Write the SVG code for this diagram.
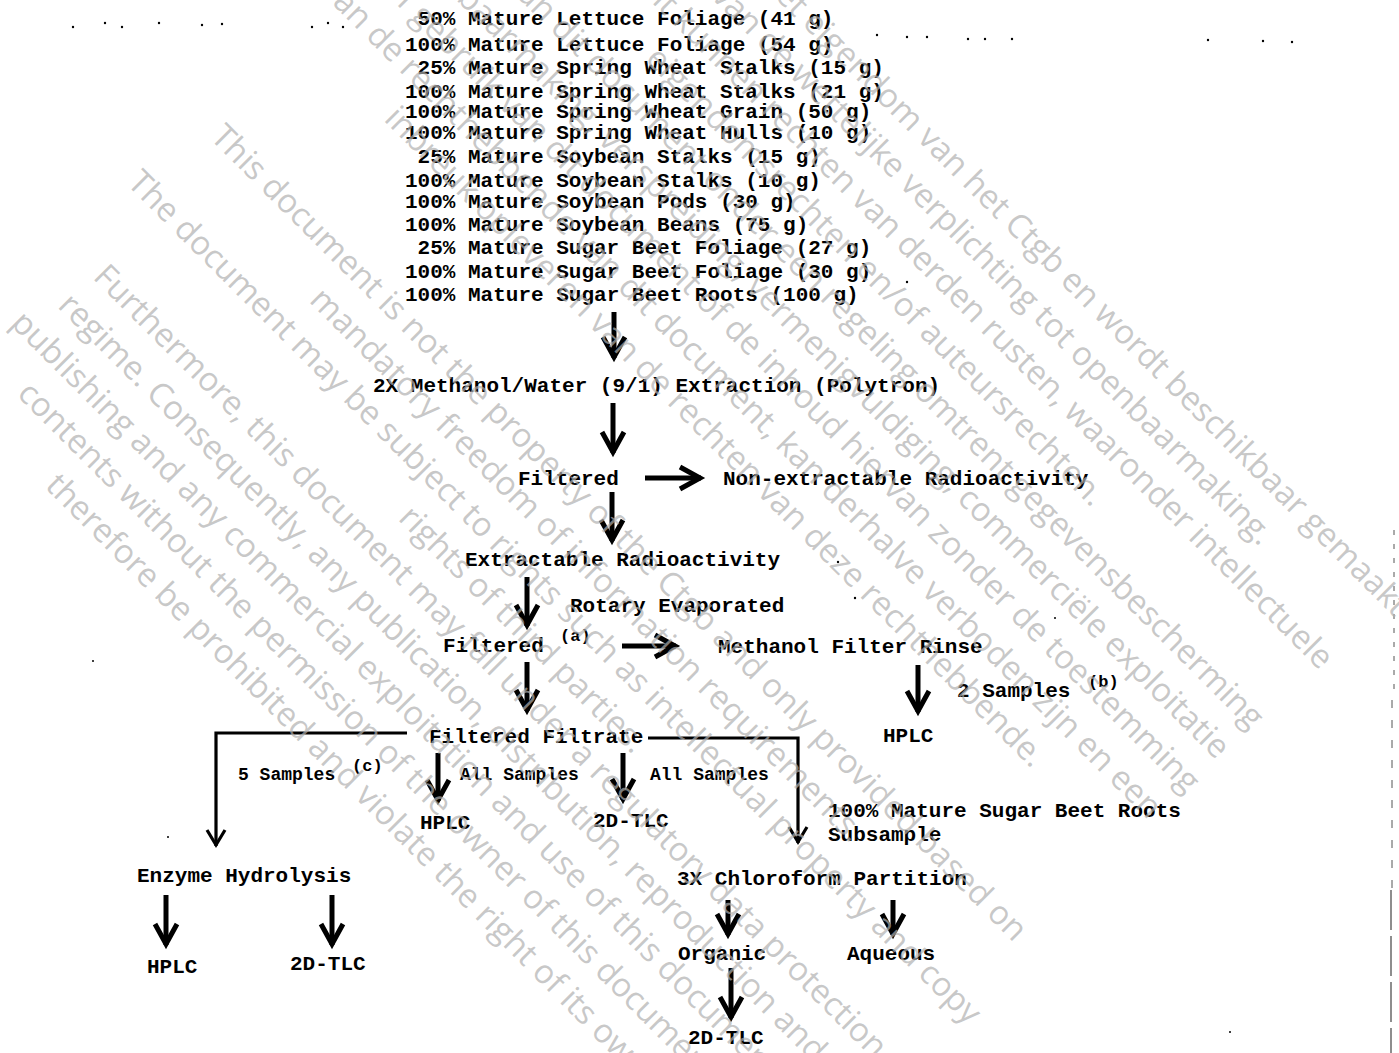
<svg xmlns="http://www.w3.org/2000/svg" width="1399" height="1053" viewBox="0 0 1399 1053">
<style>
.t{font-family:"Liberation Mono","Courier New",monospace;font-weight:bold;font-size:21px;fill:#000}
.s{font-size:18px}
.n{font-size:17px}
.wm{font-family:"Open Sans","DejaVu Sans",sans-serif;font-size:33px;fill:#b0b0b0;fill-opacity:0.7;text-anchor:middle}
.thick{fill:none;stroke:#000;stroke-width:5}
.thin{fill:none;stroke:#000;stroke-width:3.2}
</style>
<defs>
<marker id="ah" markerUnits="userSpaceOnUse" markerWidth="40" markerHeight="40" viewBox="-30 -20 40 40" refX="0" refY="0" orient="auto">
<path d="M-21,-11 L-1,0 L-21,11" fill="none" stroke="#000" stroke-width="5" stroke-linejoin="miter"/>
</marker>
<marker id="ahs" markerUnits="userSpaceOnUse" markerWidth="30" markerHeight="30" viewBox="-25 -15 30 30" refX="0" refY="0" orient="auto">
<path d="M-16,-9 L-1,0 L-16,9" fill="none" stroke="#000" stroke-width="3.2" stroke-linejoin="miter"/>
</marker>
</defs>
<rect width="1399" height="1053" fill="#fff"/>

<g id="scan-marks" fill="#000">
<circle cx="73" cy="27" r="1.2"/><circle cx="105" cy="23" r="1.2"/><circle cx="122" cy="27" r="1.2"/>
<circle cx="159" cy="23" r="1.2"/><circle cx="202" cy="25" r="1.2"/><circle cx="222" cy="24" r="1.2"/>
<circle cx="312" cy="27" r="1.2"/><circle cx="328" cy="23" r="1.2"/><circle cx="343" cy="27" r="1.2"/>
<circle cx="877" cy="35" r="1.2"/><circle cx="907" cy="37" r="1.2"/><circle cx="927" cy="37" r="1.2"/>
<circle cx="968" cy="39" r="1.2"/><circle cx="985" cy="39" r="1.2"/><circle cx="1012" cy="39" r="1.2"/>
<circle cx="1208" cy="40" r="1.2"/><circle cx="1263" cy="41" r="1.2"/><circle cx="1292" cy="42" r="1.2"/>
<circle cx="907" cy="282" r="1.2"/><circle cx="838" cy="562" r="1.2"/><circle cx="855" cy="598" r="1.2"/>
<circle cx="1055" cy="618" r="1"/><circle cx="93" cy="661" r="1"/><circle cx="168" cy="837" r="1"/>
<circle cx="1230" cy="1032" r="1"/>
<path d="M1394,530 V690" stroke="#555" stroke-width="1" stroke-dasharray="5 9" fill="none"/>
<path d="M1392,700 V890" stroke="#555" stroke-width="1" stroke-dasharray="8 12" fill="none"/>
<path d="M1391,890 V1053" stroke="#444" stroke-width="1.2" stroke-dasharray="40 6" fill="none"/>
</g>

<g id="connectors">
<path class="thick" d="M614,312 V358" marker-end="url(#ah)"/>
<path class="thick" d="M613,403 V453" marker-end="url(#ah)"/>
<path class="thick" d="M612,492 V541" marker-end="url(#ah)"/>
<path class="thick" d="M645,478 H701" marker-end="url(#ah)"/>
<path class="thick" d="M527,577 V626" marker-end="url(#ah)"/>
<path class="thick" d="M622,646 H676" marker-end="url(#ah)"/>
<path class="thick" d="M527,662 V711" marker-end="url(#ah)"/>
<path class="thick" d="M918,665 V712" marker-end="url(#ah)"/>
<path class="thin" d="M407,733 H216 V846" marker-end="url(#ahs)"/>
<path class="thin" d="M648,738 H798 V843" marker-end="url(#ahs)"/>
<path class="thick" d="M438,753 V801" marker-end="url(#ah)"/>
<path class="thick" d="M623,753 V800" marker-end="url(#ah)"/>
<path class="thick" d="M166,895 V945" marker-end="url(#ah)"/>
<path class="thick" d="M332,895 V945" marker-end="url(#ah)"/>
<path class="thick" d="M728,900 V935" marker-end="url(#ah)"/>
<path class="thick" d="M893,900 V935" marker-end="url(#ah)"/>
<path class="thick" d="M731,968 V1018" marker-end="url(#ah)"/>
</g>

<g id="samples">
<text class="t" x="417.6" y="25">50% Mature Lettuce Foliage (41 g)</text>
<text class="t" x="405" y="51">100% Mature Lettuce Foliage (54 g)</text>
<text class="t" x="417.6" y="74">25% Mature Spring Wheat Stalks (15 g)</text>
<text class="t" x="405" y="98">100% Mature Spring Wheat Stalks (21 g)</text>
<text class="t" x="405" y="118">100% Mature Spring Wheat Grain (50 g)</text>
<text class="t" x="405" y="139">100% Mature Spring Wheat Hulls (10 g)</text>
<text class="t" x="417.6" y="163">25% Mature Soybean Stalks (15 g)</text>
<text class="t" x="405" y="187">100% Mature Soybean Stalks (10 g)</text>
<text class="t" x="405" y="208">100% Mature Soybean Pods (30 g)</text>
<text class="t" x="405" y="231">100% Mature Soybean Beans (75 g)</text>
<text class="t" x="417.6" y="254">25% Mature Sugar Beet Foliage (27 g)</text>
<text class="t" x="405" y="278">100% Mature Sugar Beet Foliage (30 g)</text>
<text class="t" x="405" y="301">100% Mature Sugar Beet Roots (100 g)</text>
</g>
<g id="extraction"><text class="t" x="373" y="392">2X Methanol/Water (9/1) Extraction (Polytron)</text></g>
<g id="filtered1"><text class="t" x="518" y="485">Filtered</text></g>
<g id="nonextractable"><text class="t" x="723" y="485">Non-extractable Radioactivity</text></g>
<g id="extractable"><text class="t" x="465" y="566">Extractable Radioactivity</text></g>
<g id="rotary"><text class="t" x="570" y="612">Rotary Evaporated</text></g>
<g id="filtered2"><text class="t" x="443" y="652">Filtered</text><text class="t n" x="560" y="641">(a)</text></g>
<g id="rinse"><text class="t" x="718" y="653">Methanol Filter Rinse</text></g>
<g id="rinse-samples"><text class="t" x="957" y="697">2 Samples</text><text class="t n" x="1088" y="687">(b)</text></g>
<g id="rinse-hplc"><text class="t" x="883" y="742">HPLC</text></g>
<g id="filtrate"><text class="t" x="429" y="743">Filtered Filtrate</text></g>
<g id="five-samples"><text class="t s" x="238" y="780">5 Samples</text><text class="t n" x="352" y="771">(c)</text></g>
<g id="all-samples-1"><text class="t s" x="460" y="780">All Samples</text></g>
<g id="all-samples-2"><text class="t s" x="650" y="780">All Samples</text></g>
<g id="filtrate-hplc"><text class="t" x="420" y="829">HPLC</text></g>
<g id="filtrate-tlc"><text class="t" x="593" y="827">2D-TLC</text></g>
<g id="subsample"><text class="t" x="828" y="817">100% Mature Sugar Beet Roots</text><text class="t" x="828" y="841">Subsample</text></g>
<g id="enzyme"><text class="t" x="137" y="882">Enzyme Hydrolysis</text></g>
<g id="chloroform"><text class="t" x="677" y="885">3X Chloroform Partition</text></g>
<g id="enzyme-hplc"><text class="t" x="147" y="973">HPLC</text></g>
<g id="enzyme-tlc"><text class="t" x="290" y="970">2D-TLC</text></g>
<g id="organic"><text class="t" x="678" y="960">Organic</text></g>
<g id="aqueous"><text class="t" x="847" y="960">Aqueous</text></g>
<g id="organic-tlc"><text class="t" x="688" y="1044">2D-TLC</text></g>

<g id="watermark" class="wm">
<text x="964.5" y="187.5" transform="rotate(45 964.5 187.5)">Dit document is niet het eigendom van het Ctgb en wordt beschikbaar gemaakt</text>
<text x="932.5" y="219.5" transform="rotate(45 932.5 219.5)">op grond van de wettelijke verplichting tot openbaarmaking.</text>
<text x="900.5" y="251.5" transform="rotate(45 900.5 251.5)">Op dit document kunnen rechten van derden rusten, waaronder intellectuele</text>
<text x="868" y="284" transform="rotate(45 868 284)">eigendomsrechten en/of auteursrechten.</text>
<text x="818" y="298" transform="rotate(45 818 298)">Daarnaast kan dit document onder een regeling omtrent gegevensbescherming</text>
<text x="768" y="312" transform="rotate(45 768 312)">vallen. Openbaarmaking, verspreiding, vermenigvuldiging, commerciële exploitatie</text>
<text x="766" y="374" transform="rotate(45 766 374)">en/of gebruik van dit document of de inhoud hiervan zonder de toestemming</text>
<text x="734" y="406" transform="rotate(45 734 406)">van de rechthebbende van dit document, kan derhalve verboden zijn en een</text>
<text x="707.5" y="444.5" transform="rotate(45 707.5 444.5)">inbreuk opleveren van de rechten van deze rechthebbende.</text>
<text x="611.5" y="540.5" transform="rotate(45 611.5 540.5)">This document is not the property of the Ctgb and only provided based on</text>
<text x="579.5" y="572.5" transform="rotate(45 579.5 572.5)">mandatory freedom of information requirements.</text>
<text x="547" y="605" transform="rotate(45 547 605)">The document may be subject to rights such as intellectual property and copy</text>
<text x="515" y="637" transform="rotate(45 515 637)">rights of third parties.</text>
<text x="483" y="669" transform="rotate(45 483 669)">Furthermore, this document may fall under a regulatory data protection</text>
<text x="451" y="701" transform="rotate(45 451 701)">regime. Consequently, any publication, distribution, reproduction and/or</text>
<text x="418.5" y="733.5" transform="rotate(45 418.5 733.5)">publishing and any commercial exploitation and use of this document or its</text>
<text x="386.5" y="765.5" transform="rotate(45 386.5 765.5)">contents without the permission of the owner of this document may</text>
<text x="354.5" y="797.5" transform="rotate(45 354.5 797.5)">therefore be prohibited and violate the right of its owner.</text>
</g>
</svg>
